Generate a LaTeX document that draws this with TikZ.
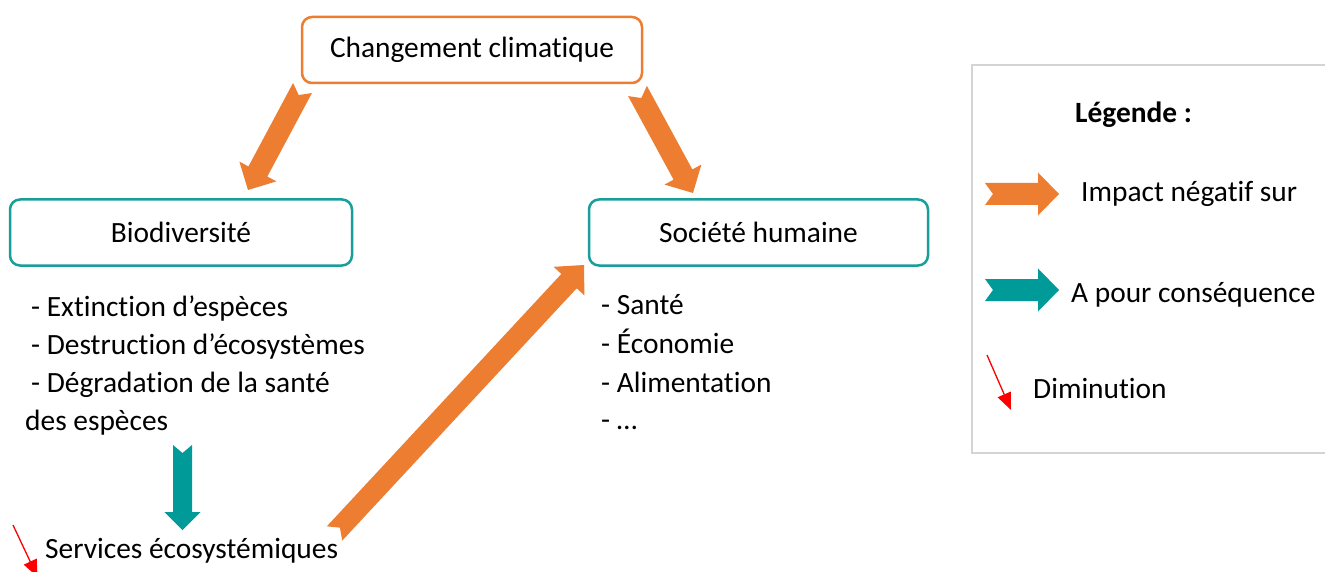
\documentclass[tikz,border=0pt]{standalone}
\usepackage{fontspec}
\setmainfont{Carlito}[Ligatures={NoCommon,NoRequired,NoContextual,TeX}]
\usetikzlibrary{calc,arrows.meta}

\definecolor{impact}{HTML}{ED7D31}
\definecolor{conseq}{HTML}{009A98}
\definecolor{frameteal}{HTML}{1A9E9A}
\definecolor{legendframe}{HTML}{D4D4D4}

% Notched block arrow: colour, tail, tip, half shaft, half head, head length, notch depth
\newcommand{\blockarrow}[7]{%
  \coordinate (ah) at ($(#3)!#6pt!(#2)$);
  \fill[#1]
    ($(#2)!#4pt!90:(#3)$) --
    ($(ah)!#4pt!90:(#3)$) --
    ($(ah)!#5pt!90:(#3)$) --
    (#3) --
    ($(ah)!#5pt!-90:(#3)$) --
    ($(ah)!#4pt!-90:(#3)$) --
    ($(#2)!#4pt!-90:(#3)$) --
    ($(#2)!#7pt!(#3)$) -- cycle;}

\begin{document}
\begin{tikzpicture}[x=1pt,y=1pt,
  every node/.style={font=\fontsize{29.4}{35}\selectfont, text=black},
  topic/.style={draw, rounded corners=10pt, line width=2.5pt, fill=white,
    minimum height=66pt, inner sep=0pt},
  txt/.style={anchor=base west, inner sep=0pt},
  dimarrow/.style={draw=red, line width=1.3pt, -{Triangle[length=17pt,width=14pt,fill=red]}}]

\useasboundingbox[fill=white] (0,0) rectangle (1325,-572);

% main boxes
\node[topic, draw=impact, minimum width=340pt] (cc) at (472,-50) {Changement climatique};
\node[topic, draw=frameteal, minimum width=342pt] (bio) at (181,-232.5) {Biodiversité};
\node[topic, draw=frameteal, minimum width=339pt] (soc) at (758.5,-232.5) {Société humaine};

% lists under the boxes
\node[txt] (b1) at (31,-316) {- Extinction d’espèces};
\node[txt] (b2) at (31,-354) {- Destruction d’écosystèmes};
\node[txt] (b3) at (31,-392) {- Dégradation de la santé};
\node[txt] (b4) at (25,-430) {des espèces};

\node[txt] (s1) at (601,-314) {- Santé};
\node[txt] (s2) at (601,-353) {- Économie};
\node[txt] (s3) at (601,-392) {- Alimentation};
\node[txt] (s4) at (601,-429) {- …};

\node[txt] (serv) at (45,-558) {Services écosystémiques};

% arrow end points
\coordinate (cc-l) at (302.5,-88);
\coordinate (bio-t) at (248,-190);
\coordinate (cc-r) at (637.5,-91);
\coordinate (soc-t) at (693,-193);
\coordinate (serv-r) at (334.5,-533.5);
\coordinate (soc-bl) at (584,-265);
\coordinate (b4-b) at (182.5,-445);
\coordinate (serv-t) at (182.5,-530);
\coordinate (dim-a) at (13,-525);
\coordinate (dim-b) at (37.5,-577);

\blockarrow{impact}{cc-l}{bio-t}{10.7}{21}{21}{8}
\blockarrow{impact}{cc-r}{soc-t}{10.7}{21}{21}{8}
\blockarrow{impact}{serv-r}{soc-bl}{10.5}{21}{22}{8}
\blockarrow{conseq}{b4-b}{serv-t}{9.5}{18}{18}{8}
\draw[dimarrow] (dim-a) -- (dim-b);

% legend
\draw[legendframe, line width=2pt] (972,-65) rectangle (1340,-453);
\node[txt, font=\fontsize{29.4}{35}\selectfont\bfseries] (leg) at (1075,-123) {Légende :};

\coordinate (li-a) at (985,-194);
\coordinate (li-b) at (1059,-194);
\coordinate (lc-a) at (985,-290);
\coordinate (lc-b) at (1059,-290);
\coordinate (ld-a) at (987,-355);
\coordinate (ld-b) at (1011,-410);

\blockarrow{impact}{li-a}{li-b}{11}{21.5}{21}{8}
\blockarrow{conseq}{lc-a}{lc-b}{11}{21.5}{21}{8}
\draw[dimarrow] (ld-a) -- (ld-b);

\node[txt] (li) at (1081,-202) {Impact négatif sur};
\node[txt] (lc) at (1071,-302) {A pour conséquence};
\node[txt] (ld) at (1033,-398) {Diminution};

\end{tikzpicture}
\end{document}
